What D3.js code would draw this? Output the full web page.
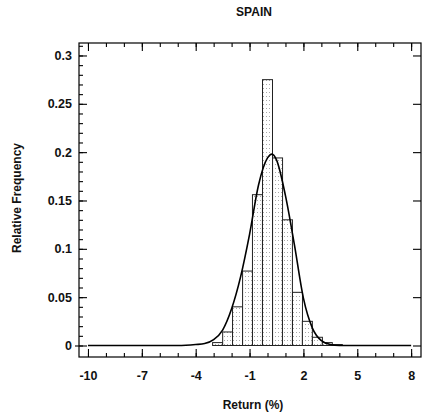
<!DOCTYPE html>
<html>
<head>
<meta charset="utf-8">
<script src="https://cdn.jsdelivr.net/npm/d3@7"></script>
<style>
  body { margin: 0; background: #fff; }
  text { font-family: "Liberation Sans", Arial, sans-serif; font-weight: bold; fill: #111; }
</style>
</head>
<body>
<div id="chart"></div>
<script>
"use strict";

// histogram bins (bin centre, relative frequency)
const binCenters = [-2.78, -2.22, -1.67, -1.11, -0.56, 0, 0.56, 1.11, 1.67, 2.22, 2.78, 3.33, 3.89];
const binFreq = [0.003, 0.014, 0.040, 0.077, 0.156, 0.275, 0.194, 0.130, 0.055, 0.025, 0.0085, 0.003, 0.001];
const binWidth = 0.556;

// fitted normal curve
const curveX = [-10, -5, -4, -3.5, -3, -2.5, -2, -1.5, -1, -0.5, 0, 0.25, 0.5, 1, 1.5, 2, 2.5, 3, 3.5, 4, 5, 8];
const curveY = [0, 0, 0.001, 0.002, 0.006, 0.016, 0.038, 0.071, 0.115, 0.166, 0.194, 0.198, 0.192, 0.155, 0.104, 0.049, 0.018, 0.005, 0.001, 0, 0, 0];

const xTicks = [-10, -7, -4, -1, 2, 5, 8];
const yTicks = [0, 0.05, 0.1, 0.15, 0.2, 0.25, 0.3];

const width = 422, height = 417;
const margin = {top: 43, right: 1, bottom: 60, left: 79};
const w = width - margin.left - margin.right;
const h = height - margin.top - margin.bottom;

const x = d3.scaleLinear().domain([-10.5, 8.55]).range([0, w]);
const y = d3.scaleLinear().domain([-0.0119, 0.3129]).range([h, 0]);

const svg = d3.select("#chart").append("svg")
    .attr("width", width)
    .attr("height", height);

// stipple pattern for the bars
const defs = svg.append("defs");
const pat = defs.append("pattern")
    .attr("id", "stipple")
    .attr("width", 3).attr("height", 4)
    .attr("patternUnits", "userSpaceOnUse");
pat.append("rect").attr("width", 3).attr("height", 4).attr("fill", "#fff");
pat.append("rect").attr("x", 1).attr("y", 1).attr("width", 1).attr("height", 1).attr("fill", "#a8a8a8");

const g = svg.append("g")
    .attr("transform", "translate(" + margin.left + "," + margin.top + ")");

// bars
g.selectAll("rect.bar")
    .data(binCenters)
    .enter().append("rect")
    .attr("class", "bar")
    .attr("x", (d) => x(d - binWidth / 2))
    .attr("width", (d) => x(d + binWidth / 2) - x(d - binWidth / 2))
    .attr("y", (d, i) => y(binFreq[i]))
    .attr("height", (d, i) => y(0) - y(binFreq[i]))
    .attr("fill", "url(#stipple)")
    .attr("stroke", "#222")
    .attr("stroke-width", 1);

// normal curve
const line = d3.line()
    .x((d, i) => x(curveX[i]))
    .y((d) => y(d))
    .curve(d3.curveMonotoneX);

g.append("path")
    .datum(curveY)
    .attr("d", line)
    .attr("fill", "none")
    .attr("stroke", "#000")
    .attr("stroke-width", 1.6);

// frame
g.append("rect")
    .attr("width", w).attr("height", h)
    .attr("fill", "none")
    .attr("stroke", "#000")
    .attr("stroke-width", 1.2);

const xMinor = d3.range(-10, 9, 1);
const yMinor = d3.range(0, 0.311, 0.01);
const hyphen = (d) => String(d).replace("\u2212", "-");

// bottom axis, ticks pointing in
const xb = g.append("g")
    .attr("transform", "translate(0," + h + ")")
    .call(d3.axisBottom(x).tickValues(xTicks).tickSize(-8).tickPadding(14).tickFormat((d) => hyphen(d)));
xb.call((a) => a.select(".domain").remove());
xb.selectAll("text").style("font-size", "12.5px");
g.append("g")
    .attr("transform", "translate(0," + h + ")")
    .call(d3.axisBottom(x).tickValues(xMinor).tickSize(-4).tickFormat(""))
    .call((a) => a.select(".domain").remove());

// top axis
g.append("g")
    .call(d3.axisTop(x).tickValues(xTicks).tickSize(-8).tickFormat(""))
    .call((a) => a.select(".domain").remove());
g.append("g")
    .call(d3.axisTop(x).tickValues(xMinor).tickSize(-4).tickFormat(""))
    .call((a) => a.select(".domain").remove());

// left axis
const yl = g.append("g")
    .call(d3.axisLeft(y).tickValues(yTicks).tickSize(-8).tickPadding(7).tickFormat((d) => String(+d.toFixed(2))));
yl.call((a) => a.select(".domain").remove());
yl.selectAll("text").style("font-size", "12.5px");
g.append("g")
    .call(d3.axisLeft(y).tickValues(yMinor).tickSize(-4).tickFormat(""))
    .call((a) => a.select(".domain").remove());
// small outward mark at zero on both sides
g.append("g")
    .call(d3.axisLeft(y).tickValues([0]).tickSize(4).tickFormat(""))
    .call((a) => a.select(".domain").remove());

// right axis
g.append("g")
    .attr("transform", "translate(" + w + ",0)")
    .call(d3.axisRight(y).tickValues(yTicks).tickSize(-8).tickFormat(""))
    .call((a) => a.select(".domain").remove());

g.selectAll(".tick line").attr("stroke", "#000").attr("stroke-width", 1.1);

// titles
svg.append("text")
    .attr("x", 254).attr("y", 16)
    .attr("text-anchor", "middle")
    .style("font-size", "12px")
    .text("SPAIN");

svg.append("text")
    .attr("x", 253).attr("y", 409)
    .attr("text-anchor", "middle")
    .style("font-size", "12px")
    .text("Return (%)");

svg.append("text")
    .attr("transform", "translate(21,198)rotate(-90)")
    .attr("text-anchor", "middle")
    .style("font-size", "12px")
    .text("Relative Frequency");
</script>
</body>
</html>
